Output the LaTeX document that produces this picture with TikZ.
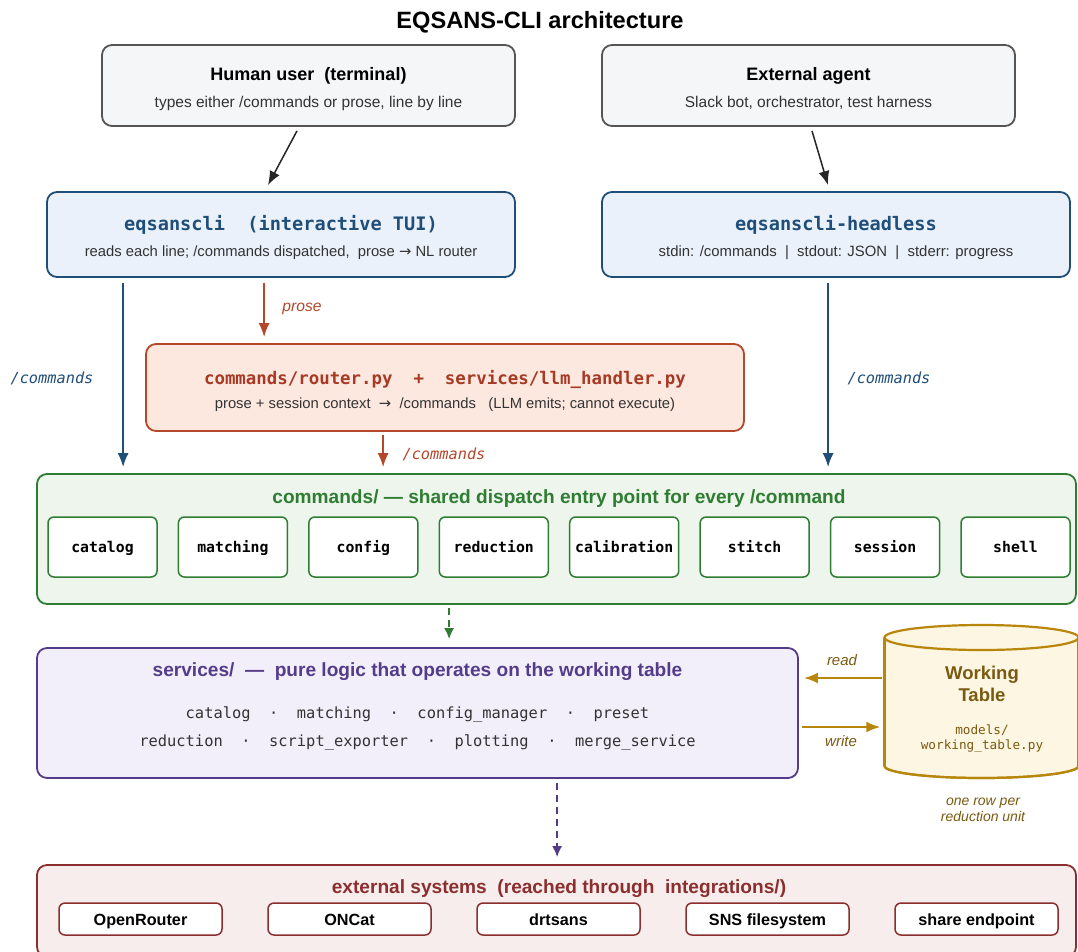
\documentclass[tikz,border=0pt]{standalone}
\usepackage{fontspec}
\setmainfont{Liberation Sans}
\setmonofont{DejaVu Sans Mono}
\newfontfamily\arrfont{DejaVu Sans}
\usetikzlibrary{arrows.meta,calc}
\definecolor{grayfill}{HTML}{F5F6F8}
\definecolor{grayline}{HTML}{555555}
\definecolor{txtgray}{HTML}{333333}
\definecolor{bluefill}{HTML}{EAF1FB}
\definecolor{blueline}{HTML}{1F4E79}
\definecolor{redfill}{HTML}{FDE8E0}
\definecolor{redline}{HTML}{B5472B}
\definecolor{redtxt}{HTML}{A63A24}
\definecolor{greenfill}{HTML}{EDF5EC}
\definecolor{greenline}{HTML}{2E7D32}
\definecolor{purpfill}{HTML}{F2EFFA}
\definecolor{purpline}{HTML}{553C8B}
\definecolor{goldfill}{HTML}{FDF6E3}
\definecolor{goldline}{HTML}{B8860B}
\definecolor{goldtxt}{HTML}{7A5A10}
\definecolor{extfill}{HTML}{F7EDED}
\definecolor{extline}{HTML}{8B2E2E}
\newcommand\fsz[2]{\fontsize{#1}{#2}\selectfont}
\newcommand\rarr{{\arrfont →}}
\begin{document}
\begin{tikzpicture}[x=1pt,y=-1pt,
  box/.style={rounded corners=10pt, line width=1.8pt, draw, inner sep=0pt},
  subbox/.style={rounded corners=6pt, line width=1.5pt, draw, fill=white, inner sep=0pt},
  txt/.style={inner sep=0pt, anchor=center, yshift=-2pt},
  arr/.style={-{Latex[length=14pt,width=11pt]}, line width=1.8pt},
  darr/.style={-{Latex[length=11pt,width=10pt]}, line width=1.8pt, dash pattern=on 7pt off 5pt},
]
\clip (0,0) rectangle (1078,951);
\fill[white] (0,0) rectangle (1078,951);

% title
\node[txt, font=\bfseries\fsz{23.6}{28}] (title) at (540,20) {EQSANS-CLI architecture};

% top boxes
\node[box, draw=grayline, fill=grayfill, minimum width=413pt, minimum height=81pt] (human) at (308.5,85.5) {};
\node[txt, font=\bfseries\fsz{18}{21}] (humanT) at (308.5,74) {Human user~~(terminal)};
\node[txt, font=\fsz{15.5}{18}, text=txtgray] (humanS) at (308.5,101) {types either /commands or prose, line by line};

\node[box, draw=grayline, fill=grayfill, minimum width=413pt, minimum height=81pt] (agent) at (808.5,85.5) {};
\node[txt, font=\bfseries\fsz{18}{21}] (agentT) at (808.5,74) {External agent};
\node[txt, font=\fsz{15.5}{18}, text=txtgray] (agentS) at (808.5,101) {Slack bot, orchestrator, test harness};

% interfaces
\node[box, draw=blueline, fill=bluefill, minimum width=468pt, minimum height=85pt] (tui) at (281,234.5) {};
\node[txt, font=\ttfamily\bfseries\fsz{18.6}{22}, text=blueline] (tuiT) at (281,223) {eqsanscli~~(interactive TUI)};
\node[txt, font=\fsz{14.8}{17}, text=txtgray] (tuiS) at (281,251) {reads each line; /commands dispatched,~~prose \rarr{} NL router};

\node[box, draw=blueline, fill=bluefill, minimum width=468pt, minimum height=85pt] (headless) at (836,234.5) {};
\node[txt, font=\ttfamily\bfseries\fsz{18.6}{22}, text=blueline] (headT) at (836,223) {eqsanscli-headless};
\node[txt, font=\fsz{14.9}{17}, text=txtgray] (headS) at (836,251) {stdin: /commands~~|~~stdout: JSON~~|~~stderr: progress};

% router
\node[box, draw=redline, fill=redfill, minimum width=598pt, minimum height=87pt] (router) at (445,387.5) {};
\node[txt, font=\ttfamily\bfseries\fsz{17.4}{21}, text=redtxt] (routerT) at (445,377) {commands/router.py~~+~~services/llm\_handler.py};
\node[txt, font=\fsz{14.8}{17}, text=txtgray] (routerS) at (445,403) {prose + session context~~\rarr~~/commands~~~(LLM emits; cannot execute)};

% commands
\node[box, draw=greenline, fill=greenfill, minimum width=1039pt, minimum height=130pt] (cmds) at (556.5,539) {};
\node[txt, font=\bfseries\fsz{19.1}{22}, text=greenline] (cmdsT) at (559,497) {commands/ — shared dispatch entry point for every /command};
\foreach \n [count=\i from 0] in {catalog,matching,config,reduction,calibration,stitch,session,shell}{
  \node[subbox, draw=greenline, minimum width=109pt, minimum height=60pt, text height=12pt, text depth=2pt, font=\ttfamily\bfseries\fsz{14.8}{18}] (c\i) at ({102.5+130.43*\i},547) {\n};
}

% services
\node[box, draw=purpline, fill=purpfill, minimum width=761pt, minimum height=130pt] (svc) at (417.5,713) {};
\node[txt, font=\bfseries\fsz{19.1}{22}, text=purpline] (svcT) at (417.5,670) {services/~~—~~pure logic that operates on the working table};
\node[txt, font=\ttfamily\fsz{15.4}{18}, text=txtgray] (svcL1) at (417.5,712) {catalog~~·~~matching~~·~~config\_manager~~·~~preset};
\node[txt, font=\ttfamily\fsz{15.4}{18}, text=txtgray] (svcL2) at (417.5,740) {reduction~~·~~script\_exporter~~·~~plotting~~·~~merge\_service};

% working table cylinder
\node[inner sep=0pt, minimum width=194pt, minimum height=128pt] (wt) at (981.5,702) {};
\draw[goldline, line width=2.2pt, fill=goldfill] (981.5,766) ellipse [x radius=97, y radius=12];
\fill[goldfill] (884.5,637.5) rectangle (1078.5,766);
\draw[goldline, line width=2.2pt] (884.5,637.5) -- (884.5,766);
\draw[goldline, line width=2.2pt] (1078.5,637.5) -- (1078.5,766);
\draw[goldline, line width=2.2pt, fill=goldfill] (981.5,637.5) ellipse [x radius=97, y radius=12.5];
\draw[goldline, line width=2.2pt] (884.5,766) arc[start angle=180, end angle=360, x radius=97, y radius=-12];
\node[txt, font=\bfseries\fsz{18.5}{20}, text=goldtxt] (wtT1) at (982,673) {Working};
\node[txt, font=\bfseries\fsz{18.5}{20}, text=goldtxt] (wtT2) at (982,693) {Table};
\node[txt, font=\ttfamily\fsz{12.7}{15}, text=goldtxt] (wtM1) at (982,728) {models/};
\node[txt, font=\ttfamily\fsz{12.7}{15}, text=goldtxt] (wtM2) at (982,744) {working\_table.py};
\node[txt, font=\itshape\fsz{14}{15}, text=goldtxt] (wtN1) at (983,801) {one row per};
\node[txt, font=\itshape\fsz{14}{15}, text=goldtxt] (wtN2) at (983,814) {reduction unit};

% external systems
\node[box, draw=extline, fill=extfill, minimum width=1039pt, minimum height=92pt] (ext) at (556.5,911) {};
\node[txt, font=\bfseries\fsz{19.1}{22}, text=extline] (extT) at (559,887) {external systems~~(reached through~~integrations/)};
\foreach \n [count=\i from 0] in {OpenRouter,ONCat,drtsans,SNS filesystem,share endpoint}{
  \node[subbox, draw=extline, minimum width=163pt, minimum height=32pt, text height=14pt, text depth=1pt, font=\bfseries\fsz{16.2}{19}] (e\i) at ({140.5+209*\i},919) {\n};
}

% connectors
\draw[arr, draw=black!85, fill=black!85, line width=1.5pt] ($(human.south)+(-11.5,4)$) -- ($(tui.north)+(-13,-6)$);
\draw[arr, draw=black!85, fill=black!85, line width=1.5pt] ($(agent.south)+(3.5,4)$) -- ($(headless.north)+(-8,-6)$);

\draw[arr, blueline] ($(tui.south west)+(77,5)$) -- ($(cmds.north west)+(87,-6)$);
\node[txt, font=\ttfamily\itshape\fsz{15.3}{18}, text=blueline] (lblL) at (52,376) {/commands};

\draw[arr, redline] ($(tui.south west)+(218,5)$) -- ($(router.north west)+(119,-6)$);
\node[txt, font=\itshape\fsz{15.6}{18}, text=redline] (lblP) at (302,307) {prose};

\draw[arr, redline] ($(router.south west)+(238,3)$) -- ($(cmds.north west)+(347,-6)$);
\node[txt, font=\ttfamily\itshape\fsz{15.3}{18}, text=redline] (lblR) at (444,452) {/commands};

\draw[arr, blueline] ($(headless.south west)+(227,5)$) -- ($(cmds.north west)+(792,-6)$);
\node[txt, font=\ttfamily\itshape\fsz{15.3}{18}, text=blueline] (lblH) at (889,376) {/commands};

\draw[darr, greenline] ($(cmds.south west)+(413,3)$) -- ($(svc.north west)+(413,-8)$);
\draw[darr, purpline] ($(svc.south west)+(521,4)$) -- ($(ext.north west)+(521,-7)$);

\draw[arr, goldline, line width=2.2pt] ($(wt.west)+(-2,-24)$) -- ($(svc.east)+(5,-35)$);
\node[txt, font=\itshape\fsz{15}{17}, text=goldtxt] (lblRead) at (842,658) {read};
\draw[arr, goldline, line width=2.2pt] ($(svc.east)+(3,14)$) -- ($(wt.west)+(-4,25)$);
\node[txt, font=\itshape\fsz{15}{17}, text=goldtxt] (lblWrite) at (841,739) {write};
\end{tikzpicture}
\end{document}
